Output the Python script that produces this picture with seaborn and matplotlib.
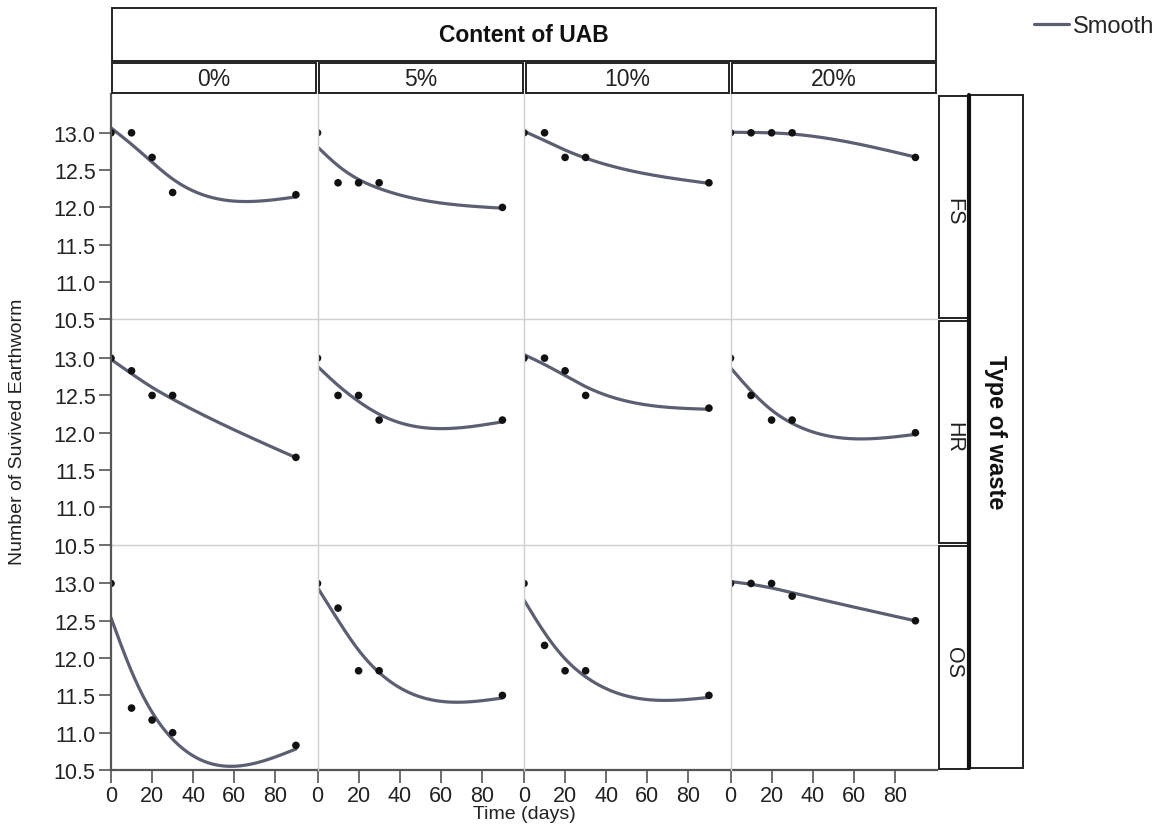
import numpy as np
import pandas as pd
import matplotlib
matplotlib.use("Agg")
import matplotlib.pyplot as plt
import seaborn as sns
from matplotlib.patches import Rectangle
from matplotlib.lines import Line2D

# ---------------- data ----------------
times = [0, 10, 20, 30, 90]
contents = ["0%", "5%", "10%", "20%"]
wastes = ["FS", "HR", "OS"]

fs_0 = [13.0, 13.0, 12.67, 12.2, 12.17]
fs_5 = [13.0, 12.33, 12.33, 12.33, 12.0]
fs_10 = [13.0, 13.0, 12.67, 12.67, 12.33]
fs_20 = [13.0, 13.0, 13.0, 13.0, 12.67]
hr_0 = [13.0, 12.83, 12.5, 12.5, 11.67]
hr_5 = [13.0, 12.5, 12.5, 12.17, 12.17]
hr_10 = [13.0, 13.0, 12.83, 12.5, 12.33]
hr_20 = [13.0, 12.5, 12.17, 12.17, 12.0]
os_0 = [13.0, 11.33, 11.17, 11.0, 10.83]
os_5 = [13.0, 12.67, 11.83, 11.83, 11.5]
os_10 = [13.0, 12.17, 11.83, 11.83, 11.5]
os_20 = [13.0, 13.0, 13.0, 12.83, 12.5]

series = {
    ("FS", "0%"): fs_0, ("FS", "5%"): fs_5, ("FS", "10%"): fs_10, ("FS", "20%"): fs_20,
    ("HR", "0%"): hr_0, ("HR", "5%"): hr_5, ("HR", "10%"): hr_10, ("HR", "20%"): hr_20,
    ("OS", "0%"): os_0, ("OS", "5%"): os_5, ("OS", "10%"): os_10, ("OS", "20%"): os_20,
}

x_ticks = [0, 20, 40, 60, 80]
y_ticks = [10.5, 11.0, 11.5, 12.0, 12.5, 13.0]


# ---------------- smoother (cubic smoothing spline) ----------------
def smooth_spline(x, y, lam, grid):
    x = np.asarray(x, float)
    y = np.asarray(y, float)
    n = len(x)
    h = np.diff(x)
    Q = np.zeros((n, n - 2))
    R = np.zeros((n - 2, n - 2))
    for j in range(1, n - 1):
        Q[j - 1, j - 1] = 1 / h[j - 1]
        Q[j, j - 1] = -1 / h[j - 1] - 1 / h[j]
        Q[j + 1, j - 1] = 1 / h[j]
        R[j - 1, j - 1] = (h[j - 1] + h[j]) / 3
        if j < n - 2:
            R[j - 1, j] = R[j, j - 1] = h[j] / 6
    K = Q @ np.linalg.solve(R, Q.T)
    g = np.linalg.solve(np.eye(n) + lam * K, y)
    gam = np.zeros(n)
    gam[1:-1] = np.linalg.solve(R, Q.T @ g)
    out = np.empty(len(grid))
    for k, t in enumerate(grid):
        i = int(np.searchsorted(x, t, side="right") - 1)
        i = min(max(i, 0), n - 2)
        a = t - x[i]
        b = x[i + 1] - t
        hi = h[i]
        out[k] = (a * g[i + 1] + b * g[i]) / hi - a * b / 6 * (
            (1 + a / hi) * gam[i + 1] + (1 + b / hi) * gam[i])
    return out


t_arr = np.array(times, float)
t_mean, t_std = t_arr.mean(), t_arr.std(ddof=1)
LAMBDA = 0.05

rows_pts, rows_sm = [], []
for (w, c), vals in series.items():
    for t, v in zip(times, vals):
        rows_pts.append({"waste": w, "content": c, "time": t, "value": v})
    xs = (t_arr - t_mean) / t_std
    grid = np.linspace(0, 90, 181)
    fit = smooth_spline(xs, vals, LAMBDA, (grid - t_mean) / t_std)
    for t, v in zip(grid, fit):
        rows_sm.append({"waste": w, "content": c, "time": t, "value": v})
pts = pd.DataFrame(rows_pts)
sm = pd.DataFrame(rows_sm)

# ---------------- figure ----------------
W, H = 1169, 829
sns.set_style("white")
plt.rcParams["font.family"] = ["Liberation Sans", "DejaVu Sans"]

g = sns.FacetGrid(pts, row="waste", col="content", row_order=wastes,
                  col_order=contents, sharex=True, sharey=True, despine=False)
fig = g.figure
fig.set_size_inches(W / 100, H / 100)
fig.set_dpi(100)
fig.subplots_adjust(left=111 / W, right=937 / W, top=1 - 95 / H,
                    bottom=1 - 771 / H, wspace=0, hspace=0)

line_color = "#5c5f72"
dark = "#555555"
light = "#cfcfcf"

for (w, c), ax in g.axes_dict.items():
    ri, ci = wastes.index(w), contents.index(c)
    ax.set_facecolor("none")
    sub_sm = sm[(sm.waste == w) & (sm.content == c)]
    sub_pt = pts[(pts.waste == w) & (pts.content == c)]
    sns.lineplot(data=sub_sm, x="time", y="value", color=line_color,
                 lw=2.3, ax=ax, legend=False, zorder=2)
    sns.scatterplot(data=sub_pt, x="time", y="value", color="#111111",
                    s=30, edgecolor="none", ax=ax, legend=False, zorder=3)
    ax.set_xlim(0, 100.5)
    ax.set_ylim(10.5, 13.52)
    ax.set_xticks(x_ticks)
    ax.set_yticks(y_ticks)
    ax.set_title("")
    ax.set_xlabel("")
    ax.set_ylabel("")
    ax.grid(False)
    for s in ("top", "right"):
        ax.spines[s].set_visible(False)
    ax.spines["left"].set_color(dark if ci == 0 else light)
    ax.spines["left"].set_linewidth(1.6 if ci == 0 else 1.0)
    ax.spines["bottom"].set_color(dark if ri == 2 else light)
    ax.spines["bottom"].set_linewidth(1.6 if ri == 2 else 1.0)
    ax.spines["left"].set_zorder(4)
    if ci == 0:
        ax.tick_params(axis="y", left=True, labelleft=True, length=9,
                       width=1.2, color=dark, labelsize=15.5, pad=2,
                       labelcolor="#222222")
        ax.set_yticklabels([f"{v:.1f}" for v in y_ticks])
    else:
        ax.tick_params(axis="y", left=False, labelleft=False)
    if ri == 2:
        ax.tick_params(axis="x", bottom=True, labelbottom=True, length=9,
                       width=1.2, color=dark, labelsize=15.5, pad=2,
                       labelcolor="#222222")
        ax.set_xticklabels([str(v) for v in x_ticks])
    else:
        ax.tick_params(axis="x", bottom=False, labelbottom=False)


def fx(px):
    return px / W


def fy(py):
    return 1 - py / H


def box(x0, y0, x1, y1, lw=1.4):
    fig.add_artist(Rectangle((fx(x0), fy(y1)), fx(x1) - fx(x0), fy(y0) - fy(y1),
                             transform=fig.transFigure, fill=False,
                             ec="#222222", lw=lw))


# column strips
fig.canvas.draw()
for ci, c in enumerate(contents):
    pos = g.axes[0, ci].get_position()
    x0, x1 = pos.x0 * W + 1.5, pos.x1 * W - 1.5
    box(x0, 64, x1, 94)
    fig.text((fx(x0) + fx(x1)) / 2, fy(79), c, ha="center", va="center",
             fontsize=16.5, color="#222222")
# top header
box(112, 9, 936, 62)
fig.text(fx(524), fy(35), "Content of UAB", ha="center", va="center",
         fontsize=16.5, fontweight="bold", color="#111111")

# row strips
for ri, w in enumerate(wastes):
    pos = g.axes[ri, 0].get_position()
    y0, y1 = (1 - pos.y1) * H + 1.5, (1 - pos.y0) * H - 1.5
    box(938.5, y0, 968.5, y1)
    fig.text(fx(953.5), fy((y0 + y1) / 2 + 4), w, ha="center", va="center",
             rotation=-90, fontsize=15.5, color="#222222")
box(969, 96, 1022.5, 769)
fig.add_artist(Line2D([fx(969), fx(969)], [fy(96), fy(769)],
                      transform=fig.transFigure, color="#111111", lw=3))
fig.text(fx(996), fy(432), "Type of waste", ha="center", va="center",
         rotation=-90, fontsize=17, fontweight="bold", color="#111111")

# axis labels
fig.text(fx(18), fy(432), "Number of Suvived Earthworm", ha="center",
         va="center", rotation=90, fontsize=14, color="#222222")
fig.text(fx(524), fy(815), "Time (days)", ha="center", va="center",
         fontsize=14, color="#222222")

# legend
fig.legend(handles=[Line2D([], [], color=line_color, lw=2.3)],
           labels=["Smooth"], loc="center left",
           bbox_to_anchor=(fx(1034), fy(27)), frameon=False,
           handlelength=1.5, handletextpad=0.15, fontsize=17,
           borderaxespad=0, borderpad=0)

fig.savefig("out.png", dpi=100)
